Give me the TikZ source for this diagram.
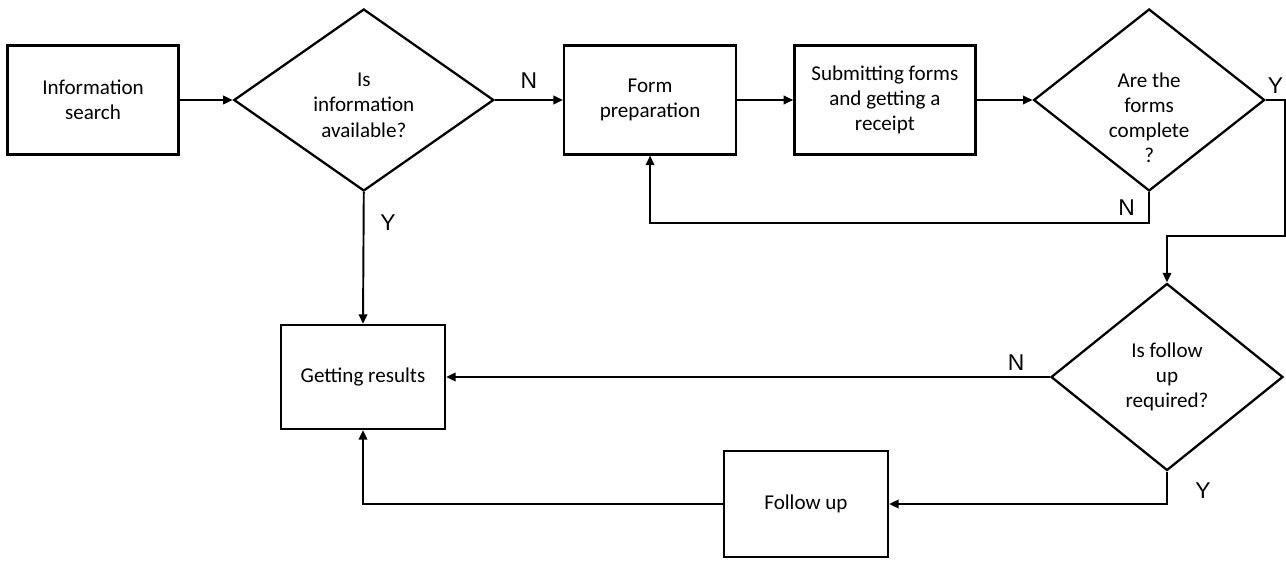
\documentclass[tikz,border=0pt]{standalone}
\usepackage{fontspec}
\setmainfont{Carlito}
\newfontfamily\yesno{Liberation Sans}
\usetikzlibrary{arrows.meta,positioning,shapes.geometric}

\begin{document}
\begin{tikzpicture}[
  proc/.style={
    draw=black,
    line width=1.3pt,
    minimum height=2.18cm,
    align=center,
    font=\fontsize{12}{14.4}\selectfont
  },
  dec/.style={
    diamond,
    draw=black,
    line width=1.3pt,
    inner sep=0pt,
    align=center,
    font=\fontsize{12}{14.4}\selectfont
  },
  arr/.style={line width=1.1pt,-{Triangle[length=1.9mm,width=1.7mm]}},
  yn/.style={font=\yesno\fontsize{13}{15}\selectfont}
]
\useasboundingbox (0,0) rectangle (25.72,11.2);
\node[proc,minimum width=3.42cm] (srch) at (1.86,9.2) {Information\\search};
\node[dec,aspect=1.43,minimum width=5.2cm,minimum height=3.64cm,text height=1.49cm,right=1.06cm of srch] (avail) {Is\\information\\available?};
\node[proc,minimum width=3.44cm,right=1.36cm of avail] (prep) {Form\\preparation};
\node[proc,minimum width=3.62cm,right=1.12cm of prep] (subm) {Submitting forms\\and getting a\\receipt};
\node[dec,aspect=1.27,minimum width=4.62cm,minimum height=3.64cm,text height=2.52cm,inner sep=-0.15cm,right=1.12cm of subm] (compl) {Are the\\forms\\complete\\?};
\node[dec,aspect=1.24,minimum width=4.64cm,minimum height=3.74cm] (fup) at (23.34,3.66) {Is follow\\up\\required?};
\node[proc,minimum width=3.28cm,minimum height=2.08cm] (res) at (7.26,3.66) {Getting results};
\node[proc,minimum width=3.28cm,minimum height=2.12cm] (fol) at (16.12,1.12) {Follow up};
\coordinate (edge) at (25.7,6.48);

\draw[arr] (srch) -- (avail);
\draw[arr] (avail) -- node[yn,above=1mm]{N} (prep);
\draw[arr] (prep) -- (subm);
\draw[arr] (subm) -- (compl);
\draw[arr] (compl.south) -- node[yn,left=0.15cm]{N} ++(0,-0.62) -| (prep.south);
\draw[arr] (compl.east) -- node[yn,above]{Y} (compl.east -| edge) -- (edge) -| (fup.north);
\draw[arr] (avail.south) -- node[yn,right=0.2cm,pos=0.23]{Y} (res.north);
\draw[arr] (fup.west) -- node[yn,above,pos=0.056]{N} (res.east);
\draw[arr] (fup.south) |- node[yn,right=0.43cm,pos=0.29]{Y} (fol.east);
\draw[arr] (fol.west) -| (res.south);
\end{tikzpicture}
\end{document}
